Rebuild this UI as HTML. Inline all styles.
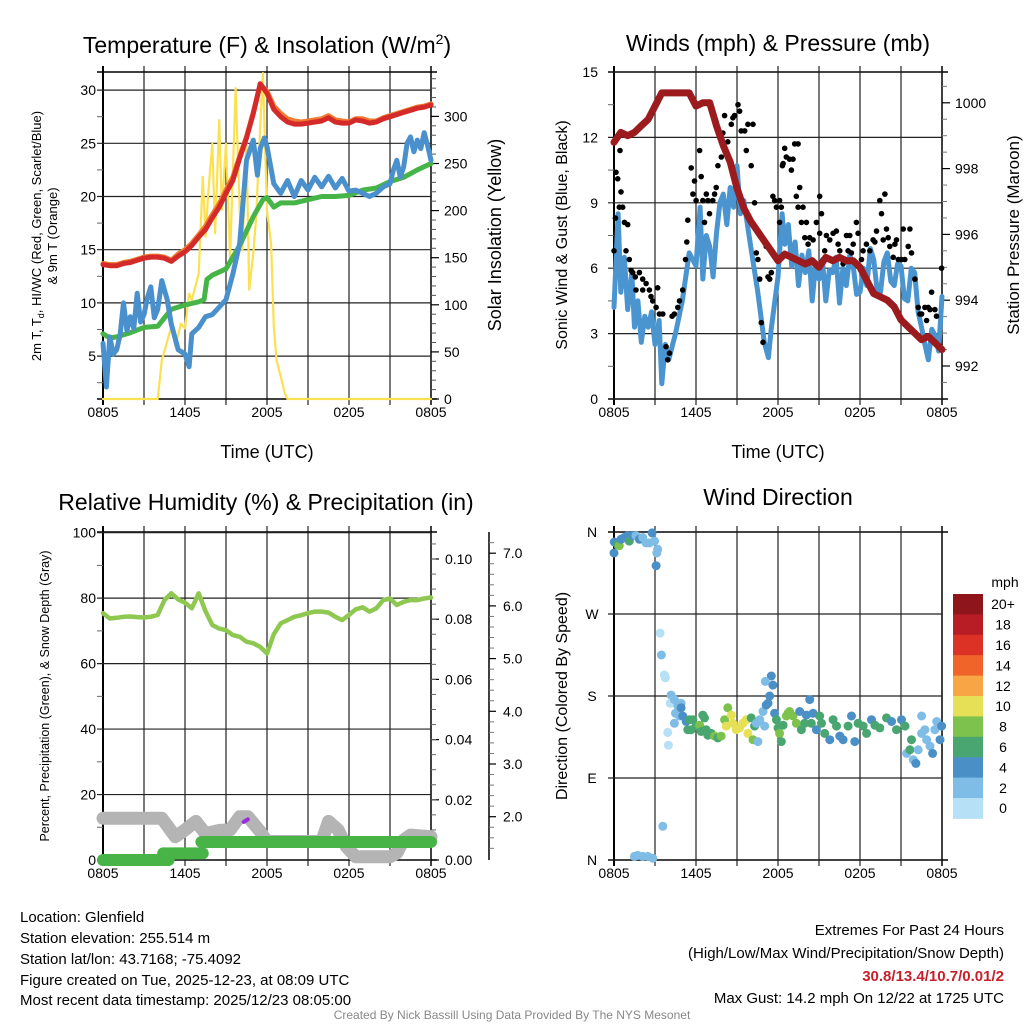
<!DOCTYPE html>
<html><head><meta charset="utf-8"><style>
html,body{margin:0;padding:0;background:#fff;}
svg{display:block;font-family:"Liberation Sans",sans-serif;}
</style></head><body>
<svg id="fig" width="1024" height="1024" viewBox="0 0 1024 1024" xmlns="http://www.w3.org/2000/svg">
<rect width="1024" height="1024" fill="#fff"/>
<g id="layer"></g>
<text x="267" y="53" font-size="23" text-anchor="middle">Temperature (F) &amp; Insolation (W/m<tspan font-size="14" dy="-9">2</tspan><tspan dy="9">)</tspan></text>
<text x="778" y="51" font-size="23" text-anchor="middle">Winds (mph) &amp; Pressure (mb)</text>
<text x="266" y="510" font-size="23" text-anchor="middle">Relative Humidity (%) &amp; Precipitation (in)</text>
<text x="778" y="505" font-size="23" text-anchor="middle">Wind Direction</text>
<text x="267" y="458" font-size="18" text-anchor="middle">Time (UTC)</text>
<text x="778" y="458" font-size="18" text-anchor="middle">Time (UTC)</text>
<text transform="translate(41,236) rotate(-90)" font-size="13" text-anchor="middle">2m T, T<tspan font-size="9" dy="3">d</tspan><tspan dy="-3">, HI/WC (Red, Green, Scarlet/Blue)</tspan></text>
<text transform="translate(57,236) rotate(-90)" font-size="13" text-anchor="middle">&amp; 9m T (Orange)</text>
<text transform="translate(501,235) rotate(-90)" font-size="18" text-anchor="middle">Solar Insolation (Yellow)</text>
<text transform="translate(567,235) rotate(-90)" font-size="16" text-anchor="middle">Sonic Wind &amp; Gust (Blue, Black)</text>
<text transform="translate(1019,235) rotate(-90)" font-size="17" text-anchor="middle">Station Pressure (Maroon)</text>
<text transform="translate(49,696) rotate(-90)" font-size="12.5" text-anchor="middle">Percent, Precipitation (Green), &amp; Snow Depth (Gray)</text>
<text transform="translate(567,696) rotate(-90)" font-size="16" text-anchor="middle">Direction (Colored By Speed)</text>
<g font-size="15">
<text x="20" y="922">Location: Glenfield</text>
<text x="20" y="943">Station elevation: 255.514 m</text>
<text x="20" y="964">Station lat/lon: 43.7168; -75.4092</text>
<text x="20" y="985">Figure created on Tue, 2025-12-23, at 08:09 UTC</text>
<text x="20" y="1005">Most recent data timestamp: 2025/12/23 08:05:00</text>
</g>
<g font-size="15" text-anchor="end">
<text x="1004" y="935">Extremes For Past 24 Hours</text>
<text x="1004" y="958">(High/Low/Max Wind/Precipitation/Snow Depth)</text>
<text x="1004" y="981" fill="#c8202a" font-weight="bold">30.8/13.4/10.7/0.01/2</text>
<text x="1004" y="1003">Max Gust: 14.2 mph On 12/22 at 1725 UTC</text>
</g>
<text x="512" y="1019" font-size="12" fill="#888" text-anchor="middle">Created By Nick Bassill Using Data Provided By The NYS Mesonet</text>
<text x="1005" y="587" font-size="14" text-anchor="middle">mph</text>
</svg>
<script>
// ---------- data ----------
const xTickLabels = ["0805","1405","2005","0205","0805"];
const xTickHours = [0,6,12,18,24];
const redTemp = [13.6,13.5,13.5,13.7,13.8,14.0,14.2,14.3,14.3,14.2,13.9,14.4,14.8,15.4,16.2,16.9,18.0,19.0,20.3,21.5,23.6,25.5,27.8,30.6,29.7,28.2,27.5,27.0,26.8,26.8,26.9,27.0,27.1,27.4,27.0,26.9,26.9,27.2,27.1,26.9,27.0,27.3,27.5,27.7,27.9,28.1,28.3,28.4,28.6];
const orangeTemp = [13.7,13.6,13.6,13.8,13.9,14.1,14.3,14.4,14.4,14.3,14.0,14.6,15.0,15.6,16.4,17.2,18.3,19.3,20.6,21.8,23.8,25.6,27.9,30.5,29.9,28.5,27.8,27.3,27.1,27.0,27.1,27.2,27.3,27.6,27.2,27.1,27.0,27.3,27.3,27.1,27.1,27.4,27.6,27.8,28.0,28.2,28.4,28.5,28.7];
const dewHours = [0,0.5,1,2,3,4,4.5,5,6,7,7.4,7.6,8,9,10,11,11.7,12,12.5,13,14,15,16,17,18,19,20,21,22,23,24];
const dewTemp = [7.1,6.7,6.8,7.2,7.7,7.8,8.6,9.4,9.8,10.1,10.3,12.2,12.6,13.2,15.4,18.1,19.7,19.9,19.0,19.4,19.4,19.7,20.0,20.0,20.1,20.6,20.8,21.4,21.8,22.5,23.1];
const wcHours = [0,0.25,0.5,0.75,1,1.25,1.5,1.75,2,2.25,2.5,2.75,3,3.25,3.5,3.75,4,4.3,4.7,5,5.5,6,6.3,6.5,7,7.5,8,8.5,9,9.5,10,10.5,11,11.3,11.5,11.8,12,12.5,13,13.5,14,14.5,15,15.5,16,16.5,17,17.5,18,18.5,19,19.5,20,20.5,21,21.25,21.5,21.75,22,22.25,22.5,22.75,23,23.25,23.5,23.75,24];
const wcTemp = [6.2,2.1,6.8,5.2,5.6,7.0,10.0,7.4,8.7,7.6,10.9,8.2,8.9,10.5,11.5,8.6,9.4,12.1,10.3,8.0,5.6,5.2,4.0,7.1,7.7,8.7,8.9,9.6,10.3,12.7,15.6,23.4,25.3,22.0,24.5,25.5,24.7,21.2,20.3,21.5,20.0,21.5,20.6,21.8,20.9,21.9,20.8,21.7,20.5,20.6,20.3,20.0,20.3,20.9,21.2,22.5,23.4,21.8,22.8,25.0,25.6,24.2,25.3,24.5,26.0,24.8,23.4];
const solarHours = [0,4.0,4.3,5.0,5.3,5.7,6.0,6.3,6.5,7.0,7.3,7.5,7.7,8.0,8.2,8.5,8.7,9.0,9.3,9.7,10.0,10.2,10.5,10.7,11.0,11.2,11.5,11.7,12.0,12.3,12.5,12.7,13.0,13.3,13.5,24];
const solarWm2 = [0,0,41,77,56,80,75,112,105,133,236,172,218,271,176,296,201,271,150,330,200,158,271,116,155,192,289,346,200,165,77,41,24,6,0,0];
const pressureMb = [998.8,999.1,999.0,999.1,999.3,999.5,999.9,1000.3,1000.3,1000.3,1000.3,1000.3,999.9,1000.0,1000.0,999.3,998.7,998.2,997.4,996.8,996.4,996.1,995.8,995.5,995.2,995.4,995.3,995.2,995.1,995.2,995.0,995.3,995.2,995.3,995.2,995.2,995.0,994.6,994.2,994.1,994.0,993.8,993.4,993.2,993.0,992.8,992.9,992.7,992.5];
const windHours = [0,0.3,0.5,0.75,1,1.3,1.5,1.75,2,2.25,2.5,2.75,3,3.3,3.5,3.75,4,4.5,5,5.5,6,6.3,6.5,6.75,7,7.25,7.5,7.75,8,8.25,8.5,8.75,9,9.25,9.5,10,10.5,11,11.3,11.5,12,12.3,12.5,12.75,13,13.25,13.5,13.75,14,14.25,14.5,14.75,15,15.25,15.5,15.75,16,16.25,16.5,16.75,17,17.25,17.5,17.75,18,18.25,18.5,18.75,19,19.25,19.5,19.75,20,20.25,20.5,20.75,21,21.25,21.5,21.75,22,22.25,22.5,22.75,23,23.25,23.5,23.75,24];
const windMph = [4.2,8.5,4.9,6.5,4.1,5.8,3.3,4.5,2.6,3.8,3.3,4.0,2.5,3.6,0.7,2.5,1.8,3.0,4.5,6.7,6.1,8.8,5.5,7.5,7.0,5.6,7.6,9.0,9.4,8.0,9.7,8.8,10.7,8.5,9.1,7.0,5.0,2.6,1.9,3.2,5.6,8.5,7.1,8.0,6.1,7.2,5.2,6.6,5.8,6.8,4.5,6.2,5.5,6.4,4.5,5.9,5.8,6.5,4.4,6.0,5.2,6.6,6.1,4.8,4.9,6.0,5.2,6.9,6.4,5.0,4.9,6.3,6.7,5.4,5.2,6.2,6.1,4.6,4.5,6.0,5.8,4.0,3.3,2.5,1.8,3.2,2.9,2.2,4.7];
const gustHours = [0.0,0.1,0.15,0.27,0.44,0.51,0.39,0.64,0.76,1.0,0.88,1.12,1.25,1.37,1.56,1.61,1.86,2.1,2.1,2.35,2.59,2.71,2.83,3.08,3.2,3.32,3.57,3.81,3.93,4.06,4.25,4.42,4.67,4.79,5.03,5.23,5.33,5.4,5.65,5.77,5.89,6.01,6.26,6.38,6.5,6.62,6.75,6.87,6.99,7.23,7.36,7.48,7.6,7.85,7.97,8.09,8.33,8.58,8.7,8.82,9.07,9.19,9.31,9.56,9.68,9.8,10.04,10.17,10.29,10.41,10.53,10.66,10.78,10.9,11.14,11.27,11.39,11.51,11.63,11.76,11.88,12.12,12.12,12.24,12.32,12.37,12.49,12.61,12.85,12.98,13.1,13.22,13.47,13.59,13.34,13.47,13.71,13.83,13.96,14.08,14.2,14.32,14.57,14.81,15.05,15.05,15.18,15.42,15.54,15.79,16.03,16.27,16.4,16.52,16.76,17.01,17.13,17.25,17.37,17.5,17.74,17.86,18.11,18.23,18.47,18.72,18.96,19.09,19.21,19.45,19.57,19.7,19.82,19.94,20.06,20.18,20.43,20.55,20.67,20.8,21.04,21.16,21.28,21.53,21.65,21.77,22.02,22.26,22.38,22.51,22.75,22.87,22.99,23.12,23.24,23.48,23.6,23.97];
const gustMph = [6.8,8.3,10.4,10.1,11.4,9.5,8.8,8.8,8.1,8.0,6.8,6.4,5.9,5.8,5.6,5.0,5.8,5.5,5.0,5.3,5.0,4.7,4.5,4.2,5.1,3.9,3.9,2.4,1.8,2.1,3.8,3.9,4.2,4.5,5.0,6.4,7.2,8.2,10.6,9.4,10.0,9.1,11.4,10.2,9.1,8.1,9.4,9.1,8.5,9.1,9.4,9.7,10.7,11.1,12.2,13.0,11.8,12.6,12.9,13.0,13.5,13.2,12.3,12.3,11.4,12.6,10.7,12.6,9.0,6.7,6.4,5.5,3.5,2.6,7.0,5.6,5.5,5.8,9.3,9.1,8.8,9.1,8.1,8.8,10.7,10.8,11.5,11.1,11.0,10.5,11.0,11.7,11.7,9.7,9.3,8.8,8.1,8.8,7.4,8.1,7.1,7.4,7.3,8.1,9.3,7.6,8.5,6.8,7.5,7.3,7.6,7.7,7.1,6.8,6.2,7.5,6.8,7.5,6.7,7.1,8.1,7.6,6.4,6.8,7.1,6.8,7.3,7.2,7.7,9.1,8.5,7.3,9.4,7.8,7.4,7.0,6.5,7.1,7.3,6.4,6.4,7.8,6.4,7.0,7.8,6.7,5.5,4.2,3.9,3.9,4.2,3.6,4.2,4.1,4.9,4.1,3.8,6.0];
const rhPercent = [75.4,73.8,74.0,74.3,74.4,74.2,74.1,74.3,74.9,79.4,81.5,79.6,78.6,76.9,81.5,76.0,71.8,70.7,70.2,68.7,68.2,66.7,66.2,65.1,63.1,69.0,72.3,73.3,74.3,74.8,75.4,75.9,75.9,75.6,74.3,73.3,74.9,76.6,77.2,75.9,76.9,79.4,79.9,77.9,78.9,79.4,79.4,79.9,80.2];
const snowHours = [0,4.3,5.3,6.0,6.8,7.5,8.5,9.3,10.0,10.6,11.5,12.0,16.0,16.5,17.2,17.8,18.5,20.0,21.0,21.5,22.0,22.5,24];
const snowDepth = [1.97,1.97,1.62,1.75,1.91,1.68,1.74,1.75,2.0,2.0,1.72,1.53,1.53,1.91,1.75,1.43,1.24,1.24,1.24,1.31,1.56,1.65,1.62];
const precipStart = [0,4.4,7.2];
const precipEnd = [4.8,7.3,24];
const precipInches = [0,0.0022,0.006];
const dirHours = [0.0,0.02,0.27,0.39,0.51,0.76,1.0,1.12,1.37,1.61,1.86,2.1,2.35,2.59,2.79,2.96,3.2,3.13,3.08,1.49,1.74,2.1,2.47,2.83,3.57,3.37,3.47,3.69,3.76,4.18,4.11,3.93,3.98,4.42,4.67,4.91,4.5,4.79,4.42,5.03,4.91,5.28,5.52,5.77,5.65,5.4,6.01,6.26,6.5,6.62,6.38,6.74,6.87,7.11,7.36,7.6,7.84,8.09,8.33,8.21,8.58,8.7,8.94,9.19,9.43,9.68,9.8,10.04,10.17,10.29,10.41,10.53,10.66,10.9,11.02,11.14,11.27,11.39,11.51,11.63,11.07,11.75,11.88,12.0,12.12,12.24,12.37,12.61,12.73,12.85,13.1,13.34,13.59,13.71,13.95,14.08,14.32,14.44,14.57,14.81,15.05,15.18,15.42,15.79,16.03,16.28,16.52,16.76,17.13,17.38,17.62,17.86,18.23,18.48,18.84,19.09,19.45,19.94,20.31,20.67,21.04,21.29,21.41,21.65,21.77,21.9,22.09,22.26,22.51,22.51,22.75,22.87,23.12,23.31,23.48,23.61,23.85,23.97];
const dirDegrees = [337,349,346,345,352,354,356,350,356,356,352,354,348,348,359,350,341,337,323,4,5,4,4,2,37,249,225,203,200,181,172,140,126,176,169,172,161,158,150,158,167,152,154,154,143,143,147,148,159,156,141,143,137,139,136,134,136,154,167,147,159,150,143,145,150,154,139,156,132,147,150,130,154,163,147,170,172,180,202,192,196,161,154,145,139,130,148,158,161,163,158,150,163,143,150,159,176,150,161,143,158,150,139,132,154,147,136,132,147,158,130,150,147,139,154,148,145,156,152,143,154,147,117,121,132,110,106,121,158,139,143,132,125,117,143,152,132,147];
const dirSpeed = [5,5,7,9,5,5,5,7,5,3,5,3,3,3,5,3,3,3,5,3,3,3,3,3,3,1,3,1,1,3,1,1,1,3,3,3,3,3,3,5,5,5,7,7,7,7,7,9,7,7,7,7,7,7,9,7,9,9,9,11,11,11,11,11,11,11,11,7,9,7,3,3,3,3,3,5,5,5,5,5,3,5,7,7,9,7,7,9,9,9,9,9,5,7,7,5,5,7,5,5,7,7,7,5,7,7,5,5,7,5,5,7,7,7,5,7,7,7,5,7,5,7,3,7,7,3,5,3,3,3,3,3,3,5,3,3,5,5];
const speedBins = ["0","2","4","6","8","10","12","14","16","18","20+"];
const speedColors = ["#b6e0f6","#7fbde6","#4a8fc6","#4aa670","#7cc24c","#e6e057","#f7a545","#f0642a","#dc3226","#b81c24","#8e1519"];
const tempTicks = [5,10,15,20,25,30];
const solarTicks = [0,50,100,150,200,250,300];
const windTicks = [0,3,6,9,12,15];
const pressureTicks = [992,994,996,998,1000];
const rhTicks = [0,20,40,60,80,100];
const precipTicks = [0,0.02,0.04,0.06,0.08,0.10];
const snowTicks = [2,3,4,5,6,7];
const dirTicks = [0,90,180,270,360];
const dirLabels = ["N","E","S","W","N"];

// ---------- helpers ----------
const NS = "http://www.w3.org/2000/svg";
const layer = document.getElementById("layer");
function mk(tag, attrs, name, parent) {
  const el = document.createElementNS(NS, tag);
  for (const k in attrs) el.setAttribute(k, attrs[k]);
  
  
  (parent || layer).appendChild(el);
  return el;
}
function txt(x, y, s, anchor, size, name, extra) {
  const el = mk("text", Object.assign({x: x, y: y, "text-anchor": anchor, "font-size": size}, extra || {}), name);
  el.textContent = s;
  return el;
}
function path(xs, ys, fx, fy, stroke, w, name) {
  const n = Math.min(xs.length, ys.length);
  let d = "";
  for (let i = 0; i < n; i++) d += (i ? "L" : "M") + fx(xs[i]).toFixed(1) + " " + fy(ys[i]).toFixed(1);
  return mk("path", {d: d, fill: "none", stroke: stroke, "stroke-width": w, "stroke-linejoin": "round", "stroke-linecap": "round"}, name);
}
function halfHours(n) { const a = []; for (let i = 0; i < n; i++) a.push(i * 0.5); return a; }

function frame(x0, x1, y0, y1, prefix, bottomY) {
  const fx = t => x0 + t * (x1 - x0) / 24;
  for (let h = 3; h < 24; h += 3) {
    mk("line", {x1: fx(h), x2: fx(h), y1: y0 - 6, y2: y1 + 6, stroke: "#222", "stroke-width": 1.2}, prefix + "-vertical-gridline");
  }
  mk("line", {x1: x0, x2: x0, y1: y0 - 6, y2: y1 + 6, stroke: "#000", "stroke-width": 2}, prefix + "-left-axis");
  mk("line", {x1: x1, x2: x1, y1: y0 - 6, y2: y1 + 6, stroke: "#000", "stroke-width": 1.5}, prefix + "-right-axis");
  mk("line", {x1: x0 - 6, x2: x1 + 6, y1: y0, y2: y0, stroke: "#000", "stroke-width": 1.5}, prefix + "-top-border");
  mk("line", {x1: x0 - 6, x2: x1 + 6, y1: y1, y2: y1, stroke: "#000", "stroke-width": 1.5}, prefix + "-bottom-border");
  for (let i = 0; i < xTickHours.length; i++) {
    txt(fx(xTickHours[i]), bottomY, xTickLabels[i], "middle", 14, prefix + "-x-tick-label");
  }
  return fx;
}
function hgrid(x0, x1, ys, name) {
  ys.forEach(y => mk("line", {x1: x0 - 6, x2: x1, y1: y, y2: y, stroke: "#222", "stroke-width": 1.2}, name));
}

// ---------- Panel 1: temperature ----------
(function () {
  const fx = frame(103, 431, 72, 399, "temperature", 417);
  const fy = v => 409.3 - v * 10.64;
  const fs = w => 399 - w * 0.942;
  hgrid(103, 431, tempTicks.map(fy), "temperature-gridline");
  tempTicks.forEach(v => txt(96, fy(v) + 5, String(v), "end", 14, "temperature-y-tick-label"));
  for (let v = 2.5; v < 31.5; v += 5) mk("line", {x1: 97, x2: 103, y1: fy(v), y2: fy(v), stroke: "#666", "stroke-width": 1}, "temperature-minor-tick");
  solarTicks.forEach(w => {
    mk("line", {x1: 431, x2: 439, y1: fs(w), y2: fs(w), stroke: "#000", "stroke-width": 1.2}, "insolation-major-tick");
    txt(444, fs(w) + 5, String(w), "start", 14, "insolation-tick-label");
  });
  for (let w = 10; w < 345; w += 10) if (w % 50) mk("line", {x1: 431, x2: 436, y1: fs(w), y2: fs(w), stroke: "#555", "stroke-width": 1}, "insolation-minor-tick");
  path(solarHours, solarWm2, fx, fs, "#fbe052", 2.2, "solar-insolation-line");
  path(dewHours, dewTemp, fx, fy, "#46b446", 5, "dewpoint-line");
  path(wcHours, wcTemp, fx, fy, "#4a90cc", 5, "wind-chill-line");
  const hh = halfHours(49);
  path(hh, orangeTemp, fx, fy, "#f07c30", 5, "9m-temperature-line");
  path(hh, redTemp, fx, fy, "#d42a2a", 5, "2m-temperature-line");
})();

// ---------- Panel 2: winds & pressure ----------
(function () {
  const fx = frame(614, 942, 72, 399, "winds", 417);
  const fw = v => 399 - v * 21.8;
  const fp = p => 366 - (p - 992) * 32.9;
  hgrid(614, 942, windTicks.map(fw), "winds-gridline");
  windTicks.forEach(v => txt(598, fw(v) + 5, String(v), "end", 14, "winds-y-tick-label"));
  for (let v = 1.5; v < 15; v += 3) mk("line", {x1: 608, x2: 614, y1: fw(v), y2: fw(v), stroke: "#666", "stroke-width": 1}, "winds-minor-tick");
  pressureTicks.forEach(p => {
    mk("line", {x1: 942, x2: 950, y1: fp(p), y2: fp(p), stroke: "#000", "stroke-width": 1.2}, "pressure-major-tick");
    txt(955, fp(p) + 5, String(p), "start", 14, "pressure-tick-label");
  });
  for (let p = 991.5; p < 1001; p += 0.5) if (p % 2) mk("line", {x1: 942, x2: 947, y1: fp(p), y2: fp(p), stroke: "#777", "stroke-width": 1}, "pressure-minor-tick");
  path(windHours, windMph, fx, fw, "#4a94d0", 5, "sonic-wind-line");
  const n = Math.min(gustHours.length, gustMph.length);
  for (let i = 0; i < n; i++) {
    const c = mk("circle", {cx: fx(gustHours[i]).toFixed(1), cy: fw(gustMph[i]).toFixed(1), r: 2.8, fill: "#000"}, "gust-point");
  }
  path(halfHours(49), pressureMb, fx, fp, "#9b1b1e", 7, "station-pressure-line");
})();

// ---------- Panel 3: RH & precipitation ----------
(function () {
  const fx = frame(103, 431, 532, 860, "humidity", 878);
  const fr = r => 860 - r * 3.273;
  const fpr = p => 860 - p * 3010;
  const fsn = s => 816.7 - (s - 2) * 52.7;
  hgrid(103, 431, rhTicks.map(fr), "humidity-gridline");
  rhTicks.forEach(v => txt(96, fr(v) + 5, String(v), "end", 14, "humidity-y-tick-label"));
  for (let v = 10; v < 100; v += 20) mk("line", {x1: 97, x2: 103, y1: fr(v), y2: fr(v), stroke: "#666", "stroke-width": 1}, "humidity-minor-tick");
  precipTicks.forEach(p => {
    mk("line", {x1: 431, x2: 439, y1: fpr(p), y2: fpr(p), stroke: "#000", "stroke-width": 1.2}, "precip-major-tick");
    txt(445, fpr(p) + 5, p.toFixed(2), "start", 14, "precip-tick-label");
  });
  for (let p = 0.005; p < 0.106; p += 0.005) mk("line", {x1: 431, x2: 436, y1: fpr(p), y2: fpr(p), stroke: "#666", "stroke-width": 1}, "precip-minor-tick");
  mk("line", {x1: 489, x2: 489, y1: 532, y2: 860, stroke: "#000", "stroke-width": 1.5}, "snow-depth-axis");
  snowTicks.forEach(s => {
    mk("line", {x1: 489, x2: 496, y1: fsn(s), y2: fsn(s), stroke: "#000", "stroke-width": 1.2}, "snow-major-tick");
    txt(503, fsn(s) + 5, s.toFixed(1), "start", 14, "snow-tick-label");
  });
  for (let s = 1.4; s < 7.4; s += 0.2) if (Math.abs(s - Math.round(s)) > 0.05) mk("line", {x1: 489, x2: 494, y1: fsn(s), y2: fsn(s), stroke: "#777", "stroke-width": 1}, "snow-minor-tick");
  path(snowHours, snowDepth, fx, fsn, "#b4b4b4", 13, "snow-depth-line");
  mk("path", {d: "M" + fx(10.3) + " " + (fsn(1.92)+1) + "L" + fx(10.6) + " " + fsn(1.95), stroke: "#9a2be0", "stroke-width": 4, "stroke-linecap": "round", fill: "none"}, "purple-marker");
  for (let i = 0; i < precipInches.length; i++) {
    mk("line", {x1: fx(precipStart[i]), x2: fx(precipEnd[i]), y1: fpr(precipInches[i]), y2: fpr(precipInches[i]), stroke: "#48b448", "stroke-width": 12, "stroke-linecap": "round"}, "precipitation-segment");
  }
  path(halfHours(49), rhPercent, fx, fr, "#8ec850", 4.5, "relative-humidity-line");
})();

// ---------- Panel 4: wind direction ----------
(function () {
  const fx = frame(614, 942, 532, 860, "direction", 878);
  const fd = d => 860 - d * 328 / 360;
  hgrid(614, 942, dirTicks.map(fd), "direction-gridline");
  dirTicks.forEach((d, i) => txt(592, fd(d) + 5, dirLabels[i], "middle", 14, "direction-tick-label"));
  const n = Math.min(dirHours.length, dirDegrees.length, dirSpeed.length);
  for (let i = 0; i < n; i++) {
    const idx = Math.min(10, Math.floor(dirSpeed[i] / 2));
    const c = mk("circle", {cx: fx(dirHours[i]).toFixed(1), cy: fd(dirDegrees[i]).toFixed(1), r: 4.5, fill: speedColors[idx]}, "direction-point");
  }
  // colorbar
  const top = 594, bh = 20.4;
  for (let k = 0; k < speedBins.length; k++) {
    const j = speedBins.length - 1 - k;
    const r = mk("rect", {x: 953, y: (top + k * bh).toFixed(1), width: 30, height: bh + 0.5, fill: speedColors[j]}, "colorbar-swatch");
    txt(1003, top + k * bh + bh / 2 + 5, speedBins[j], "middle", 14, "colorbar-label");
  }
})();
</script>
</body></html>
